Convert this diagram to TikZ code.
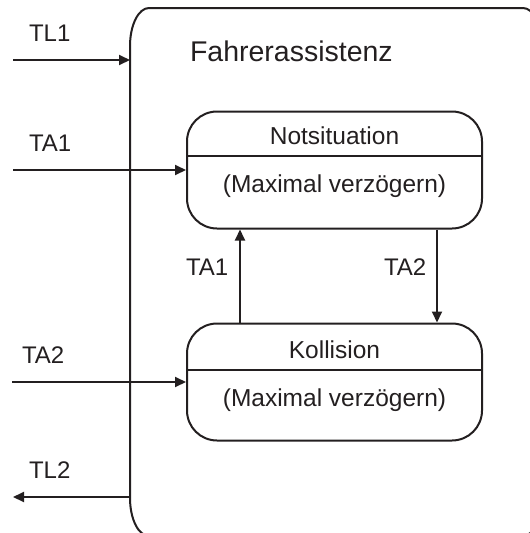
\documentclass[tikz,border=0pt]{standalone}
\usepackage{fontspec}
\setmainfont{Liberation Sans}
\usetikzlibrary{arrows.meta}
\definecolor{ink}{HTML}{231F20}
\begin{document}
\begin{tikzpicture}[x=1pt,y=-1pt,
  line width=2pt, draw=ink, text=ink,
  lbl/.style={font=\fontsize{24}{28}\selectfont, inner sep=0pt, anchor=base west},
  statebox/.style={draw, rounded corners=30pt, minimum width=295pt, minimum height=117pt, inner sep=0pt},
  boxtext/.style={font=\fontsize{24.5}{28}\selectfont, inner sep=0pt, anchor=base},
  flow/.style={-{Triangle[length=11pt,width=10pt]}, line width=2pt}]
\useasboundingbox (0,0) rectangle (530,533);

% outer superstate, running past the right and bottom edges (y axis points down)
\draw (130,498) -- (130,46) arc[start angle=180, end angle=270, x radius=19, y radius=38]
  -- (523,8) arc[start angle=270, end angle=360, x radius=19, y radius=38]
  -- (542,498) arc[start angle=0, end angle=90, x radius=19, y radius=38]
  -- (149,536) arc[start angle=90, end angle=180, x radius=19, y radius=38];
\node[lbl, font=\fontsize{28.5}{32}\selectfont] (title) at (189,61) {Fahrerassistenz};

% inner states
\node[statebox] (not) at (334.5,170) {};
\draw (not.west |- 0,156) -- (not.east |- 0,156);
\node[boxtext] (notname) at (334.5,144) {Notsituation};
\node[boxtext] (notact) at (334.5,192) {(Maximal verzögern)};

\node[statebox] (kol) at (334.5,382) {};
\draw (kol.west |- 0,370) -- (kol.east |- 0,370);
\node[boxtext] (kolname) at (334.5,358) {Kollision};
\node[boxtext] (kolact) at (334.5,406) {(Maximal verzögern)};

% external connections
\coordinate (tl1in) at (13,60);
\coordinate (tl1end) at (130,60);
\coordinate (ta1in) at (13,170);
\coordinate (ta2in) at (12,382);
\coordinate (tl2start) at (130,497);
\coordinate (tl2out) at (13,497);
\draw[flow] (tl1in) -- (tl1end);
\draw[flow] (ta1in) -- (not.west);
\draw[flow] (ta2in) -- (kol.west);
\draw[flow] (tl2start) -- (tl2out);
\node[lbl] (tl1) at (28,41) {TL1};
\node[lbl] (ta1) at (28,151) {TA1};
\node[lbl] (ta2) at (21,363) {TA2};
\node[lbl] (tl2) at (28,478) {TL2};

% transitions between the states
\coordinate (upx) at (240,0);
\coordinate (downx) at (437,0);
\draw[flow] (kol.north -| upx) -- (not.south -| upx);
\draw[flow] (not.south -| downx) -- (kol.north -| downx);
\node[lbl] (ta1up) at (185,275) {TA1};
\node[lbl] (ta2down) at (383,275) {TA2};
\end{tikzpicture}
\end{document}
